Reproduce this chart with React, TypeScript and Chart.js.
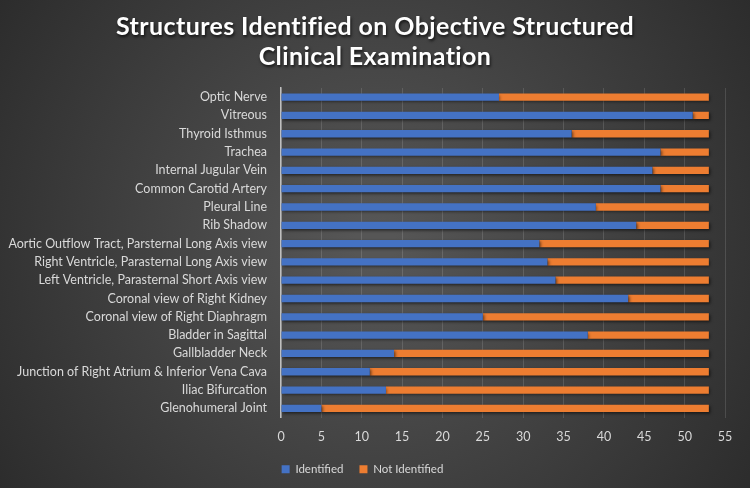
import React, { useEffect, useRef } from "react";
import { Chart, registerables } from "chart.js";

Chart.register(...registerables);

const categories = [
  "Optic Nerve",
  "Vitreous",
  "Thyroid Isthmus",
  "Trachea",
  "Internal Jugular Vein",
  "Common Carotid Artery",
  "Pleural Line",
  "Rib Shadow",
  "Aortic Outflow Tract, Parsternal Long Axis view",
  "Right Ventricle, Parasternal Long Axis view",
  "Left Ventricle, Parasternal Short Axis view",
  "Coronal view of Right Kidney",
  "Coronal view of Right Diaphragm",
  "Bladder in Sagittal",
  "Gallbladder Neck",
  "Junction of Right Atrium & Inferior Vena Cava",
  "Iliac Bifurcation",
  "Glenohumeral Joint",
];

const identified = [27, 51, 36, 47, 46, 47, 39, 44, 32, 33, 34, 43, 25, 38, 14, 11, 13, 5];
const notIdentified = [26, 2, 17, 6, 7, 6, 14, 9, 21, 20, 19, 10, 28, 15, 39, 42, 40, 48];

const titleLines = ["Structures Identified on Objective Structured", "Clinical Examination"];
const xTicksMax = 55;
const xTickStep = 5;

const FONT = "Lato, 'Open Sans', sans-serif";

const bgPlugin = {
  id: "bgPlugin",
  beforeDraw(chart: any) {
    const { ctx, width, height } = chart;
    ctx.save();
    const g = ctx.createRadialGradient(width / 2, height / 2, 20, width / 2, height / 2, width * 0.6);
    g.addColorStop(0, "#565656");
    g.addColorStop(1, "#2c2c2c");
    ctx.fillStyle = g;
    ctx.fillRect(0, 0, width, height);
    ctx.restore();
  },
  beforeDatasetsDraw(chart: any) {
    const ctx = chart.ctx;
    ctx.save();
    ctx.shadowColor = "rgba(0,0,0,0.55)";
    ctx.shadowBlur = 3;
    ctx.shadowOffsetX = 1.5;
    ctx.shadowOffsetY = 1.5;
  },
  afterDatasetsDraw(chart: any) {
    chart.ctx.restore();
  },
  afterDraw(chart: any) {
    const { ctx, width } = chart;
    ctx.save();
    ctx.font = `bold 25px ${FONT}`;
    try {
      (ctx as any).letterSpacing = "0.4px";
    } catch (e) {}
    ctx.fillStyle = "#ffffff";
    ctx.textAlign = "center";
    ctx.textBaseline = "middle";
    ctx.shadowColor = "rgba(0,0,0,0.7)";
    ctx.shadowBlur = 3;
    ctx.shadowOffsetX = 1;
    ctx.shadowOffsetY = 2;
    ctx.fillText(titleLines[0], width / 2, 27);
    ctx.fillText(titleLines[1], width / 2, 57);
    ctx.restore();
  },
};

export default function App() {
  const ref = useRef<HTMLCanvasElement | null>(null);
  useEffect(() => {
    document.body.style.margin = "0";
    const canvas = ref.current!;
    const chart = new Chart(canvas, {
      type: "bar",
      data: {
        labels: categories,
        datasets: [
          {
            label: "Identified",
            data: identified,
            backgroundColor: "#4472C4",
            barPercentage: 0.4,
            categoryPercentage: 1,
          },
          {
            label: "Not Identified",
            data: notIdentified,
            backgroundColor: "#ED7D31",
            barPercentage: 0.4,
            categoryPercentage: 1,
          },
        ],
      },
      options: {
        indexAxis: "y",
        responsive: false,
        animation: false,
        layout: { padding: { top: 88, right: 25, bottom: 3, left: 0 } },
        scales: {
          x: {
            stacked: true,
            min: 0,
            max: xTicksMax,
            ticks: {
              stepSize: xTickStep,
              color: "#d9d9d9",
              font: { family: FONT, size: 12.5 },
              padding: 12,
            },
            grid: { color: "rgba(255,255,255,0.13)", drawTicks: false },
            border: { display: false },
            afterFit(scale: any) {
              scale.height = 30;
            },
          },
          y: {
            stacked: true,
            ticks: {
              autoSkip: false,
              color: "#d9d9d9",
              font: { family: FONT, size: 12.5 },
              padding: 6,
            },
            grid: { display: false },
            border: { display: true, color: "#bfbfbf", width: 1.5 },
            afterFit(scale: any) {
              scale.width = 281;
            },
          },
        },
        plugins: {
          legend: {
            position: "bottom",
            labels: {
              color: "#d9d9d9",
              font: { family: FONT, size: 11.5 },
              boxWidth: 8,
              boxHeight: 8,
              padding: 16,
            },
          },
          tooltip: { enabled: false },
        },
      },
      plugins: [bgPlugin],
    });
    return () => chart.destroy();
  }, []);
  return <canvas ref={ref} width={750} height={488} style={{ display: "block" }} />;
}
